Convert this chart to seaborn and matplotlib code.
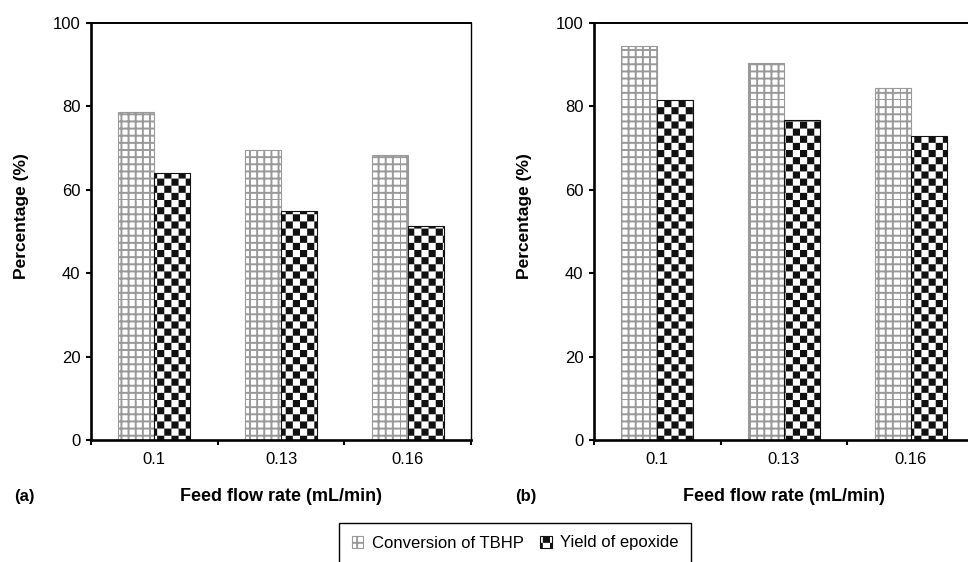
import numpy as np
import pandas as pd
import matplotlib
matplotlib.use("Agg")
import matplotlib.pyplot as plt
import matplotlib.hatch as mhatch
from matplotlib.path import Path
import seaborn as sns

# ---- data ----
flow_rates = ["0.1", "0.13", "0.16"]
series_names = ["Conversion of TBHP", "Yield of epoxide"]
conversion_a = [78.7, 69.5, 68.3]
yield_a = [64.0, 54.8, 51.3]
conversion_b = [94.6, 90.3, 84.4]
yield_b = [81.5, 76.7, 72.9]
panel_tags = ["(a)", "(b)"]
y_ticks = [0, 20, 40, 60, 80, 100]

# ---- style ----
sns.set_theme(style="white")
plt.rcParams["font.family"] = ["Liberation Sans", "DejaVu Sans"]
plt.rcParams["text.color"] = "black"
plt.rcParams["axes.labelcolor"] = "black"
plt.rcParams["xtick.color"] = "black"
plt.rcParams["ytick.color"] = "black"
HATCH_LW = 1.4
plt.rcParams["hatch.linewidth"] = HATCH_LW


# ---- custom hatch patterns: fine grid ('+') and checkerboard ('x') ----
class GridHatch(mhatch.HatchPatternBase):
    def __init__(self, hatch, density):
        self.n = 14 * hatch.count("+")
        self.num_vertices = 4 * self.n

    def set_vertices_and_codes(self, vertices, codes):
        pos = np.linspace(0, 1, self.n, endpoint=False)
        v = []
        for p in pos:
            v += [[0.0, p], [1.0, p]]
        for p in pos:
            v += [[p, 0.0], [p, 1.0]]
        vertices[:] = v
        codes[0::2] = Path.MOVETO
        codes[1::2] = Path.LINETO


class CheckerHatch(mhatch.HatchPatternBase):
    def __init__(self, hatch, density):
        self.n = 14 * hatch.count("x")
        self.num_vertices = (self.n * self.n // 2) * 5

    def set_vertices_and_codes(self, vertices, codes):
        n = self.n
        s = 1.0 / n
        m = HATCH_LW / 144.0
        k = 0
        for i in range(n):
            for j in range(n):
                if (i + j) % 2 == 0:
                    x0, y0 = i * s + m, j * s + m
                    x1, y1 = (i + 1) * s - m, (j + 1) * s - m
                    vertices[k:k + 5] = [[x0, y0], [x1, y0], [x1, y1], [x0, y1], [x0, y0]]
                    codes[k] = Path.MOVETO
                    codes[k + 1:k + 4] = Path.LINETO
                    codes[k + 4] = Path.CLOSEPOLY
                    k += 5


mhatch._hatch_types = [GridHatch, CheckerHatch]

W, H = 968, 562
fig = plt.figure(figsize=(W / 100, H / 100), dpi=100)
ax1 = fig.add_axes([91 / W, 122 / H, 380 / W, 417 / H])
ax2 = fig.add_axes([594 / W, 122 / H, 380 / W, 417 / H])

styles = [
    dict(hatch="+", edgecolor="#999999"),
    dict(hatch="x", edgecolor="#111111"),
]

for ax, conv, yld, tag, tagx in [
    (ax1, conversion_a, yield_a, panel_tags[0], 14),
    (ax2, conversion_b, yield_b, panel_tags[1], 515),
]:
    df = pd.DataFrame({
        "flow": flow_rates * 2,
        "value": list(conv) + list(yld),
        "series": [series_names[0]] * 3 + [series_names[1]] * 3,
    })
    sns.barplot(data=df, x="flow", y="value", hue="series", ax=ax,
                width=0.57, dodge=True, legend=False, saturation=1,
                palette=["white", "white"], errorbar=None)
    for cont, st in zip(ax.containers, styles):
        for p in cont.patches:
            p.set_facecolor("white")
            p.set_edgecolor(st["edgecolor"])
            p.set_hatch(st["hatch"])
            p.set_linewidth(0.8)

    ax.set_ylim(0, 100)
    ax.set_xlim(-0.5, 2.5)
    ax.set_yticks(y_ticks)
    ax.set_xticks([0, 1, 2])
    ax.set_xticklabels(flow_rates)
    ax.set_xticks([-0.5, 0.5, 1.5, 2.5], minor=True)
    ax.tick_params(axis="x", which="major", length=0, pad=8.5, labelsize=12, colors="black")
    ax.tick_params(axis="x", which="minor", length=3.5, width=1.5, direction="out",
                   bottom=True, color="black")
    ax.tick_params(axis="y", which="major", length=3.5, width=1.5, direction="out",
                   left=True, labelsize=12, colors="black", pad=4)
    for side, lw in [("left", 1.9), ("bottom", 1.9), ("top", 1.4), ("right", 1.0)]:
        ax.spines[side].set_visible(True)
        ax.spines[side].set_color("black")
        ax.spines[side].set_linewidth(lw)
    ax.set_xlabel("Feed flow rate (mL/min)", fontsize=13, fontweight="bold")
    ax.set_ylabel("Percentage (%)", fontsize=12.5, fontweight="bold")
    ax.xaxis.set_label_coords(0.5, -0.1145)
    ax.yaxis.set_label_coords(-0.163, 0.537)
    fig.text(tagx / W, 1 - 497 / H, tag, fontsize=12, fontweight="bold",
             ha="left", va="center")

leg = fig.legend(handles=ax1.containers, labels=series_names,
                 loc="upper left", bbox_to_anchor=(339 / W, 1 - 523 / H),
                 ncol=2, frameon=True, fancybox=False, framealpha=1,
                 edgecolor="black", fontsize=12, handlelength=0.7,
                 handleheight=0.7, handletextpad=0.5, columnspacing=1.0,
                 borderpad=0.75, borderaxespad=0)
leg.get_frame().set_linewidth(1.0)

fig.savefig("out.png", dpi=100)
